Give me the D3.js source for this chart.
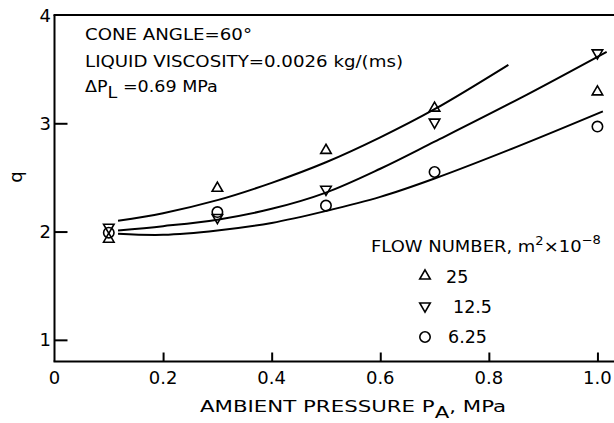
<!DOCTYPE html>
<html><head><meta charset="utf-8">
<script src="https://cdn.jsdelivr.net/npm/d3@7"></script>
<style>
html,body{margin:0;padding:0;background:#fff;}
svg{display:block;}
text{font-family:"DejaVu Sans",sans-serif;fill:#000;}
</style></head>
<body>
<svg id="chart" width="614" height="423"></svg>
<script>
// Measured data points (ambient pressure, MPa) and q values per flow number
const pressure = [0.1, 0.3, 0.5, 0.7, 1.0];
const q25  = [1.93, 2.40, 2.75, 3.14, 3.29];
const q125 = [2.04, 2.13, 2.39, 3.01, 3.65];
const q625 = [1.99, 2.18, 2.24, 2.55, 2.97];

// Fitted curves
const curveP25  = [0.117, 0.2, 0.3, 0.4, 0.5, 0.6, 0.7, 0.836];
const curveQ25  = [2.10, 2.17, 2.29, 2.45, 2.64, 2.87, 3.13, 3.54];
const curveP125 = [0.117, 0.2, 0.3, 0.4, 0.5, 0.6, 0.7, 0.857, 1.017];
const curveQ125 = [2.01, 2.05, 2.11, 2.21, 2.36, 2.58, 2.83, 3.23, 3.66];
const curveP625 = [0.117, 0.2, 0.3, 0.4, 0.5, 0.6, 0.7, 0.85, 1.01];
const curveQ625 = [1.98, 1.97, 2.01, 2.08, 2.19, 2.32, 2.49, 2.78, 3.11];

const xTicks = [0.2, 0.4, 0.6, 0.8, 1.0];
const xTickLabels = ["0.2", "0.4", "0.6", "0.8", "1.0"];
const yTicks = [1, 2, 3];
const yTickLabels = ["1", "2", "3", "4"];
const legendLabels = ["25", "12.5", "6.25"];

const svg = d3.select("#chart");
const x = d3.scaleLinear().domain([0, 1.0305]).range([54.5, 614]);
const y = d3.scaleLinear().domain([0.8, 4.0]).range([361.5, 15]);

function fitWidth(sel, x0, w) {
  const cur = sel.node().getComputedTextLength();
  const k = w / cur;
  sel.attr("transform", `translate(${x0},0) scale(${k},1) translate(${-x0},0)`);
}

// frame: left axis, bottom axis, top line
svg.append("line").attr("x1", x(0)).attr("x2", x(0)).attr("y1", y(4)).attr("y2", y(0.8))
  .attr("stroke", "#000").attr("stroke-width", 2);
svg.append("line").attr("x1", x(0) - 1).attr("x2", 614).attr("y1", y(0.8)).attr("y2", y(0.8))
  .attr("stroke", "#000").attr("stroke-width", 2);
svg.append("line").attr("x1", x(0) - 1).attr("x2", 614).attr("y1", y(4)).attr("y2", y(4))
  .attr("stroke", "#000").attr("stroke-width", 2);

// x axis ticks (inward)
const xAxis = d3.axisTop(x).tickValues(xTicks).tickSize(9).tickFormat("");
const gx = svg.append("g").attr("transform", `translate(0,${y(0.8)})`).call(xAxis);
gx.select(".domain").remove();
gx.selectAll(".tick line").attr("stroke", "#000").attr("stroke-width", 2);
svg.selectAll(".xlab").data(xTickLabels.map((t, i) => ({t, v: xTicks[i]})).concat([{t: "0", v: 0}]))
  .enter().append("text").attr("x", d => x(d.v)).attr("y", 384)
  .attr("text-anchor", "middle").attr("font-size", 18).text(d => d.t);

// y axis ticks (inward)
const yAxis = d3.axisRight(y).tickValues(yTicks).tickSize(13).tickFormat("");
const gy = svg.append("g").attr("transform", `translate(${x(0)},0)`).call(yAxis);
gy.select(".domain").remove();
gy.selectAll(".tick line").attr("stroke", "#000").attr("stroke-width", 2);
svg.selectAll(".ylab").data(yTickLabels.map((t, i) => ({t, v: i + 1})))
  .enter().append("text").attr("x", 51).attr("y", d => y(d.v) + 6.5)
  .attr("text-anchor", "end").attr("font-size", 18).text(d => d.t);

// y label
svg.append("text").attr("transform", "translate(22,177) rotate(-90)")
  .attr("text-anchor", "middle").attr("font-size", 18).text("q");

// curves
const line = d3.line().x(d => x(d[0])).y(d => y(d[1])).curve(d3.curveCatmullRom.alpha(0.5));
[[curveP25, curveQ25], [curveP125, curveQ125], [curveP625, curveQ625]].forEach(([ps, qs]) => {
  svg.append("path").datum(ps.map((p, i) => [p, qs[i]])).attr("d", line)
    .attr("fill", "none").attr("stroke", "#000").attr("stroke-width", 2);
});

// markers
const triUp = d3.symbol().type(d3.symbolTriangle).size(48);
function triangle(g, cx, cy, down) {
  g.append("path").attr("d", triUp())
    .attr("transform", `translate(${cx},${cy})` + (down ? " rotate(180)" : ""))
    .attr("fill", "none").attr("stroke", "#000").attr("stroke-width", 1.6);
}
function circle(g, cx, cy) {
  g.append("circle").attr("cx", cx).attr("cy", cy).attr("r", 5.2)
    .attr("fill", "none").attr("stroke", "#000").attr("stroke-width", 1.6);
}
const gm = svg.append("g");
pressure.forEach((p, i) => {
  triangle(gm, x(p), y(q25[i]), false);
  triangle(gm, x(p), y(q125[i]), true);
  circle(gm, x(p), y(q625[i]));
});

// annotation
svg.append("text").attr("x", 85).attr("y", 40).attr("font-size", 16.5)
  .attr("textLength", 167).attr("lengthAdjust", "spacingAndGlyphs").text("CONE ANGLE=60°");
svg.append("text").attr("x", 85).attr("y", 67).attr("font-size", 16.5)
  .attr("textLength", 318).attr("lengthAdjust", "spacingAndGlyphs").text("LIQUID VISCOSITY=0.0026 kg/(ms)");
const t3 = svg.append("text").attr("x", 85).attr("y", 92).attr("font-size", 16.5);
t3.append("tspan").text("ΔP");
t3.append("tspan").attr("dy", 6).text("L");
t3.append("tspan").attr("dy", -6).text(" =0.69 MPa");
fitWidth(t3, 85, 133);

// legend
const lt = svg.append("text").attr("x", 371).attr("y", 252).attr("font-size", 16.5);
lt.append("tspan").text("FLOW NUMBER, m");
lt.append("tspan").attr("dy", -7).attr("font-size", 12).text("2");
lt.append("tspan").attr("dy", 7).text("×10");
lt.append("tspan").attr("dy", -8).attr("font-size", 12).text("−8");
fitWidth(lt, 371, 230);
const gl = svg.append("g");
triangle(gl, 425, 276, false);
triangle(gl, 425, 306, true);
circle(gl, 425, 337);
svg.append("text").attr("x", 446).attr("y", 283).attr("font-size", 17.5).text(legendLabels[0]);
svg.append("text").attr("x", 453).attr("y", 313).attr("font-size", 17.5).text(legendLabels[1]);
svg.append("text").attr("x", 448).attr("y", 343).attr("font-size", 17.5).text(legendLabels[2]);

// x axis title
const xt = svg.append("text").attr("x", 200).attr("y", 412).attr("font-size", 16.5);
xt.append("tspan").text("AMBIENT PRESSURE P");
xt.append("tspan").attr("dy", 6).text("A");
xt.append("tspan").attr("dy", -6).text(", MPa");
fitWidth(xt, 200, 305);
</script>
</body></html>
